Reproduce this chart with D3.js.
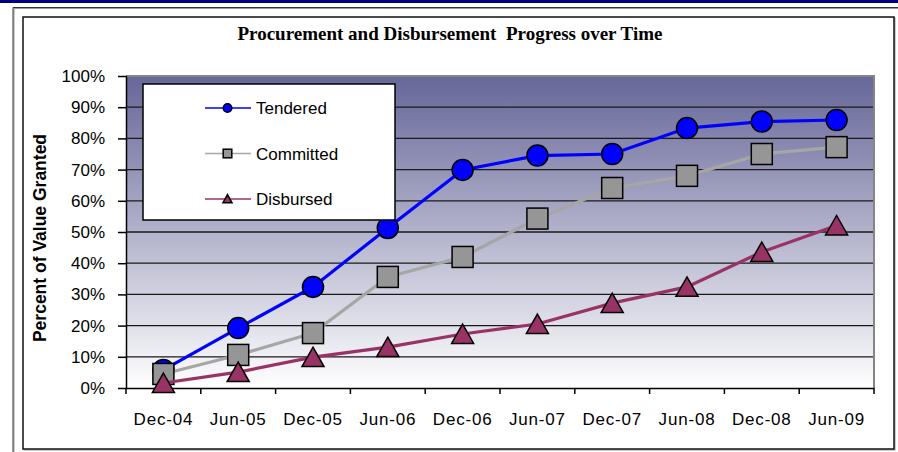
<html>
  <head>
    <style>
      body { margin: 0; background: #ffffff; }
      svg { display: block; }
    </style>
  </head>
  <body>
    <svg id="chart" width="898" height="452"></svg>
    <script src="https://d3js.org/d3.v7.js"></script>
    <script>
      // values (fraction of value granted)
      var periods = ["Dec-04", "Jun-05", "Dec-05", "Jun-06", "Dec-06", "Jun-07", "Dec-07", "Jun-08", "Dec-08", "Jun-09"];
      var tendered = [0.058, 0.192, 0.324, 0.513, 0.699, 0.745, 0.75, 0.833, 0.854, 0.859];
      var committed = [0.045, 0.106, 0.176, 0.356, 0.42, 0.543, 0.641, 0.68, 0.75, 0.772];
      var disbursed = [0.016, 0.051, 0.099, 0.131, 0.173, 0.205, 0.272, 0.324, 0.436, 0.521];
      var yTicks = [0, 0.1, 0.2, 0.3, 0.4, 0.5, 0.6, 0.7, 0.8, 0.9, 1];

      var series = [
        { name: "Tendered", values: tendered, line: "#0000ff", fill: "#0000ff", shape: "circle" },
        { name: "Committed", values: committed, line: "#a6a6a6", fill: "#969696", shape: "square" },
        { name: "Disbursed", values: disbursed, line: "#993366", fill: "#993366", shape: "triangle" }
      ];

      var svg = d3.select("#chart");
      var plot = { left: 126, right: 874, top: 76, bottom: 388 };

      // page decoration: navy band and the two frames
      svg.append("rect").attr("x", 0).attr("y", 0).attr("width", 898).attr("height", 3).attr("fill", "#000080");
      svg.append("path").attr("d", "M14,452 V8.5 H898").attr("fill", "none").attr("stroke", "#999").attr("stroke-width", 1);
      svg.append("path").attr("d", "M13,452 V7.5 H898").attr("fill", "none").attr("stroke", "#333").attr("stroke-width", 1);
      svg.append("rect").attr("x", 24).attr("y", 18).attr("width", 871).attr("height", 432)
        .attr("fill", "none").attr("stroke", "#999").attr("stroke-width", 1);
      svg.append("rect").attr("x", 23).attr("y", 17).attr("width", 871).attr("height", 432)
        .attr("fill", "#fff").attr("stroke", "#111").attr("stroke-width", 1.5);

      // gradient
      var defs = svg.append("defs");
      var grad = defs.append("linearGradient").attr("id", "bg").attr("x1", 0).attr("y1", 0).attr("x2", 0).attr("y2", 1);
      grad.append("stop").attr("offset", "0%").attr("stop-color", "#666699");
      grad.append("stop").attr("offset", "100%").attr("stop-color", "#ffffff");

      var x = d3.scaleBand().domain(periods).range([plot.left, plot.right]).padding(0);
      var y = d3.scaleLinear().domain([0, 1]).range([plot.bottom, plot.top]);
      var cx = function(d, i) { return x(periods[i]) + x.bandwidth() / 2; };

      svg.append("rect")
        .attr("x", plot.left).attr("y", plot.top)
        .attr("width", plot.right - plot.left).attr("height", plot.bottom - plot.top)
        .attr("fill", "url(#bg)");

      // gridlines
      svg.append("g").selectAll("line")
        .data(yTicks.filter(function(t) { return t > 0 && t < 1; }))
        .enter().append("line")
        .attr("x1", plot.left).attr("x2", plot.right)
        .attr("y1", function(d) { return y(d); }).attr("y2", function(d) { return y(d); })
        .attr("stroke", "#1a1a1a").attr("stroke-width", 1.3);

      // grey plot border top / right
      svg.append("path")
        .attr("d", "M" + plot.left + "," + y(1) + " H" + plot.right + " V" + plot.bottom)
        .attr("fill", "none").attr("stroke", "#858585").attr("stroke-width", 2);

      // title
      svg.append("text")
        .attr("x", 450).attr("y", 40)
        .attr("text-anchor", "middle")
        .style("font-family", "'Liberation Serif', 'Times New Roman', serif")
        .style("font-weight", "bold")
        .style("font-size", "19px")
        .attr("xml:space", "preserve")
        .text("Procurement and Disbursement  Progress over Time");

      // y axis
      var yAxis = svg.append("g")
        .attr("transform", "translate(" + plot.left + ",0)")
        .call(d3.axisLeft(y).tickValues(yTicks).tickFormat(d3.format(".0%")).tickSize(7).tickSizeOuter(0).tickPadding(14));
      yAxis.select(".domain").attr("stroke", "#000").attr("stroke-width", 1.5);
      yAxis.selectAll(".tick line").attr("stroke", "#000").attr("stroke-width", 1.5).attr("x2", -8).attr("x1", 1);
      yAxis.selectAll(".tick text")
        .style("font-family", "Arial, 'Liberation Sans', sans-serif")
        .style("font-size", "17px").attr("fill", "#000");

      // x axis: labels centred in bands, ticks on band edges
      var xAxis = svg.append("g")
        .attr("transform", "translate(0," + plot.bottom + ")")
        .call(d3.axisBottom(x).tickSize(0).tickPadding(25));
      xAxis.select(".domain").attr("stroke", "#000").attr("stroke-width", 1.5);
      xAxis.selectAll(".tick text")
        .style("font-family", "Arial, 'Liberation Sans', sans-serif")
        .style("font-size", "17px").style("letter-spacing", "0.8px").attr("fill", "#000");
      var edges = periods.map(function(p) { return x(p); }).concat([x.range()[1]]);
      xAxis.selectAll("line.edge").data(edges).enter().append("line")
        .attr("class", "edge")
        .attr("x1", function(d) { return d; }).attr("x2", function(d) { return d; })
        .attr("y1", 0).attr("y2", 6)
        .attr("stroke", "#000").attr("stroke-width", 1.5);

      // y axis title
      svg.append("text")
        .attr("transform", "translate(46,238) rotate(-90)")
        .attr("text-anchor", "middle")
        .style("font-family", "Arial, 'Liberation Sans', sans-serif")
        .style("font-weight", "bold")
        .style("font-size", "17.5px")
        .text("Percent of Value Granted");

      function marker(g, shape, px, py, s, fill) {
        if (shape === "circle") {
          g.append("circle").attr("cx", px).attr("cy", py).attr("r", s)
            .attr("fill", fill).attr("stroke", "#000").attr("stroke-width", 1.5);
        } else if (shape === "square") {
          g.append("rect").attr("x", px - s).attr("y", py - s).attr("width", 2 * s).attr("height", 2 * s)
            .attr("fill", fill).attr("stroke", "#000").attr("stroke-width", 1.5);
        } else {
          var w = s * 1.05, h = s * 0.9;
          g.append("path")
            .attr("d", "M" + px + "," + (py - h - 0.5) + " L" + (px + w) + "," + (py + h) + " L" + (px - w) + "," + (py + h) + " Z")
            .attr("fill", fill).attr("stroke", "#000").attr("stroke-width", 1.5).attr("stroke-linejoin", "miter");
        }
      }

      var line = d3.line().x(cx).y(function(d) { return y(d); });

      series.forEach(function(s) {
        var g = svg.append("g");
        g.append("path").datum(s.values)
          .attr("d", line)
          .attr("fill", "none").attr("stroke", s.line).attr("stroke-width", 3.2);
        s.values.forEach(function(v, i) {
          marker(g, s.shape, cx(v, i), y(v), 10.5, s.fill);
        });
      });

      // legend
      var legend = svg.append("g");
      legend.append("rect").attr("x", 143).attr("y", 84).attr("width", 252).attr("height", 136)
        .attr("fill", "#fff").attr("stroke", "#000").attr("stroke-width", 1.5);
      var rows = [108, 153.5, 199];
      series.forEach(function(s, i) {
        var ly = rows[i];
        legend.append("line").attr("x1", 205).attr("x2", 251).attr("y1", ly).attr("y2", ly)
          .attr("stroke", s.line).attr("stroke-width", 1.5);
        marker(legend, s.shape, 227.5, ly, 4.3, s.fill);
        legend.append("text").attr("x", 256).attr("y", ly + 6)
          .style("font-family", "Arial, 'Liberation Sans', sans-serif")
          .style("font-size", "17px")
          .text(s.name);
      });
    </script>
  </body>
</html>
